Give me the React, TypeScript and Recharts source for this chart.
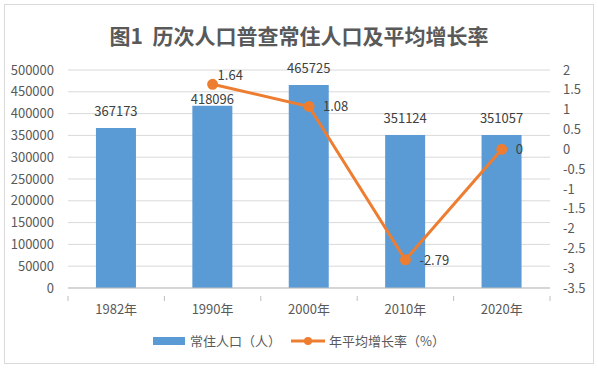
import { Bar, CartesianGrid, ComposedChart, LabelList, Line, XAxis, YAxis } from "recharts";

const years = ["1982年", "1990年", "2000年", "2010年", "2020年"];
const population = [367173, 418096, 465725, 351124, 351057];
const growthRate: (number | null)[] = [null, 1.64, 1.08, -2.79, 0];
const leftTicks = [0, 50000, 100000, 150000, 200000, 250000, 300000, 350000, 400000, 450000, 500000];
const rightTicks = [-3.5, -3, -2.5, -2, -1.5, -1, -0.5, 0, 0.5, 1, 1.5, 2];

const BLUE = "#5B9BD5";
const ORANGE = "#ED7D31";
const TEXT = "#595959";
const FONT = "'Noto Sans CJK SC', 'Noto Sans', sans-serif";

const data = years.map((year, i) => ({ year, pop: population[i], rate: growthRate[i] }));

const W = 598;
const H = 368;
const LEFT_W = 68;
const RIGHT_W = 48;
const band = (W - LEFT_W - RIGHT_W) / years.length;

// Excel puts the x tick marks between categories, not under them
function YearTick(props: any) {
  const { x, y, payload, index } = props;
  const half = band / 2;
  return (
    <g>
      <line x1={x - half} y1={y} x2={x - half} y2={y + 5} stroke="#bfbfbf" />
      {index === years.length - 1 && (
        <line x1={x + half} y1={y} x2={x + half} y2={y + 5} stroke="#bfbfbf" />
      )}
      <text x={x} y={y + 18} textAnchor="middle" fill={TEXT} fontSize={13} fontFamily={FONT}>
        {payload.value}
      </text>
    </g>
  );
}

// the 1990 label sits lower in the original, clear of the line
function PopLabel(props: any) {
  const { x, y, width, value, index } = props;
  const lift = index === 1 ? 7 : 17;
  return (
    <text x={x + width / 2} y={y - lift} dy={5} textAnchor="middle" fill="#404040" fontSize={13} fontFamily={FONT}>
      {value}
    </text>
  );
}

function RateLabel(props: any) {
  const { x, y, value, index } = props;
  if (value == null) return null;
  const first = index === 1;
  return (
    <text x={x + (first ? 5 : 14)} y={y + (first ? -9 : 0)} dy={5} fill="#404040" fontSize={13} fontFamily={FONT}>
      {value}
    </text>
  );
}

function ChartLegend() {
  return (
    <div
      style={{
        position: "absolute",
        top: 331,
        left: 0,
        width: W,
        display: "flex",
        justifyContent: "center",
        alignItems: "center",
        fontFamily: FONT,
        fontSize: 13,
        color: TEXT,
      }}
    >
      <span style={{ display: "inline-block", width: 32, height: 8, background: BLUE, marginRight: 5 }} />
      <span style={{ marginRight: 10 }}>常住人口（人）</span>
      <svg width={34} height={12} style={{ marginRight: 4 }}>
        <line x1={0} y1={6} x2={34} y2={6} stroke={ORANGE} strokeWidth={3} />
        <circle cx={17} cy={6} r={4} fill={ORANGE} />
      </svg>
      <span>年平均增长率（%）</span>
    </div>
  );
}

export default function App() {
  return (
    <div style={{ position: "absolute", left: 0, top: 0, width: W, height: H, background: "#fff" }}>
      <div
        style={{
          position: "absolute",
          left: 4,
          top: 4,
          width: W - 10,
          height: H - 10,
          border: "1px solid #d9d9d9",
        }}
      />
      <div
        style={{
          position: "absolute",
          top: 21,
          left: 0,
          width: W,
          textAlign: "center",
          fontFamily: FONT,
          fontWeight: "bold",
          fontSize: 21,
          color: TEXT,
          lineHeight: "28px",
        }}
      >
        图1&nbsp;&nbsp;历次人口普查常住人口及平均增长率
      </div>
      <div style={{ position: "absolute", left: 0, top: 0 }}>
        <ComposedChart
          width={W}
          height={H}
          data={data}
          margin={{ top: 70, right: 0, bottom: 50, left: 0 }}
          barCategoryGap="29%"
        >
          <CartesianGrid yAxisId="left" vertical={false} stroke="#d9d9d9" />
          <XAxis
            dataKey="year"
            stroke="#bfbfbf"
            tickLine={false}
            tick={<YearTick />}
            height={30}
            interval={0}
          />
          <YAxis
            yAxisId="left"
            width={LEFT_W}
            domain={[0, 500000]}
            ticks={leftTicks}
            interval={0}
            axisLine={false}
            tickLine={false}
            tickMargin={8}
            tick={{ fill: TEXT, fontSize: 13, fontFamily: FONT }}
          />
          <YAxis
            yAxisId="right"
            orientation="right"
            width={RIGHT_W}
            domain={[-3.5, 2]}
            ticks={rightTicks}
            interval={0}
            axisLine={false}
            tickLine={false}
            tickMargin={7}
            tick={{ fill: TEXT, fontSize: 13, fontFamily: FONT }}
          />
          <Bar yAxisId="left" dataKey="pop" fill={BLUE} isAnimationActive={false}>
            <LabelList dataKey="pop" content={<PopLabel />} />
          </Bar>
          <Line
            yAxisId="right"
            dataKey="rate"
            stroke={ORANGE}
            strokeWidth={3}
            dot={{ r: 4, fill: ORANGE, stroke: ORANGE }}
            activeDot={false}
            isAnimationActive={false}
          >
            <LabelList dataKey="rate" content={<RateLabel />} />
          </Line>
        </ComposedChart>
      </div>
      <ChartLegend />
    </div>
  );
}
